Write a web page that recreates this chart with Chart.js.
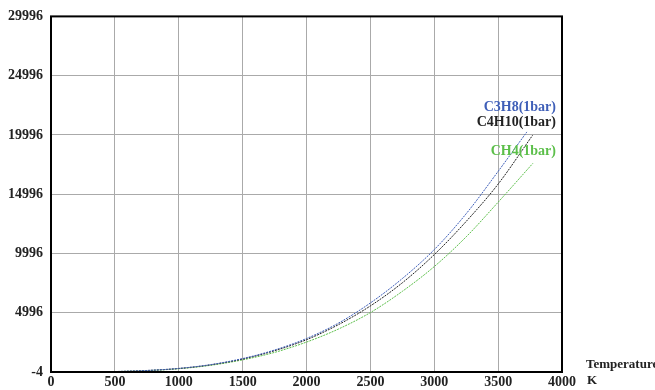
<!DOCTYPE html>
<html>
<head>
<meta charset="utf-8">
<script src="https://cdn.jsdelivr.net/npm/chart.js@4.4.1/dist/chart.umd.min.js"></script>
<style>
  html, body { margin: 0; padding: 0; background: #fff; }
  #wrap { width: 655px; height: 390px; }
</style>
</head>
<body>
<div id="wrap"><canvas id="chart" width="655" height="390"></canvas></div>
<script>
// values
const c3h8T = [100, 250, 500, 750, 1000, 1250, 1500, 1750, 2000, 2250, 2500, 2750, 3000, 3250, 3500, 3725];
const c3h8Y = [0, 3, 35, 125, 300, 620, 1130, 1850, 2820, 4120, 5820, 7880, 10320, 13350, 16920, 20250];

const c4h10T = [100, 250, 500, 750, 1000, 1250, 1500, 1750, 2000, 2250, 2500, 2750, 3000, 3250, 3500, 3770];
const c4h10Y = [0, 3, 33, 120, 290, 600, 1090, 1790, 2720, 3990, 5570, 7520, 9900, 12700, 15850, 19970];

const ch4T = [100, 250, 500, 750, 1000, 1250, 1500, 1750, 2000, 2250, 2500, 2750, 3000, 3250, 3500, 3772];
const ch4Y = [0, 3, 30, 110, 270, 560, 1020, 1650, 2520, 3620, 5010, 6800, 8890, 11400, 14320, 17600];

const seriesNames = ['C3H8(1bar)', 'C4H10(1bar)', 'CH4(1bar)'];
const xTicks = [0, 500, 1000, 1500, 2000, 2500, 3000, 3500, 4000];
const yTicks = [-4, 4996, 9996, 14996, 19996, 24996, 29996];

const toPoints = (xs, ys) => xs.map((x, i) => ({ x: x, y: ys[i] }));
const tickFont = { family: '"Liberation Serif", "Times New Roman", serif', size: 14, weight: 'bold' };

// text labels next to the curves and the axis title
const labelPlugin = {
    id: 'labels',
    afterDraw(chart) {
        const ctx = chart.ctx;
        const area = chart.chartArea;
        ctx.save();
        ctx.font = 'bold 14px "Liberation Serif", serif';
        ctx.textAlign = 'right';
        ctx.textBaseline = 'middle';
        ctx.fillStyle = '#3f5fb8';
        ctx.fillText(seriesNames[0], area.right - 6, 107);
        ctx.fillStyle = '#222';
        ctx.fillText(seriesNames[1], area.right - 6, 122);
        ctx.fillStyle = '#5cbf4a';
        ctx.fillText(seriesNames[2], area.right - 6, 151);
        ctx.fillStyle = '#222';
        ctx.font = 'bold 13px "Liberation Serif", serif';
        ctx.textAlign = 'left';
        ctx.fillText('Temperature', area.right + 24, 365);
        ctx.fillText('K', area.right + 25, 381);
        // frame
        ctx.strokeStyle = '#000';
        ctx.lineWidth = 2;
        ctx.strokeRect(area.left, area.top, area.right - area.left, area.bottom - area.top);
        ctx.restore();
    }
};

new Chart(document.getElementById('chart'), {
    type: 'line',
    data: {
        datasets: [
            { label: seriesNames[0], data: toPoints(c3h8T, c3h8Y), borderColor: '#3f5fb8' },
            { label: seriesNames[1], data: toPoints(c4h10T, c4h10Y), borderColor: '#222' },
            { label: seriesNames[2], data: toPoints(ch4T, ch4Y), borderColor: '#5cbf4a' }
        ].map(d => Object.assign(d, {
            borderWidth: 1,
            borderDash: [2, 1],
            pointRadius: 0,
            cubicInterpolationMode: 'monotone',
            fill: false
        }))
    },
    options: {
        responsive: false,
        animation: false,
        layout: { padding: { left: 0, right: 93, top: 11, bottom: 0 } },
        plugins: { legend: { display: false }, tooltip: { enabled: false } },
        scales: {
            x: {
                type: 'linear',
                min: 0,
                max: 4000,
                afterBuildTicks: s => { s.ticks = xTicks.map(v => ({ value: v })); },
                afterFit: s => { s.height = 18; },
                grid: { color: '#aaa', lineWidth: 1, drawTicks: false },
                border: { display: false },
                ticks: { font: tickFont, color: '#222', padding: 2, maxRotation: 0, autoSkip: false,
                         callback: v => String(v) }
            },
            y: {
                type: 'linear',
                min: -4,
                max: 29996,
                afterBuildTicks: s => { s.ticks = yTicks.map(v => ({ value: v })); },
                afterFit: s => { s.width = 51; },
                grid: { color: '#aaa', lineWidth: 1, drawTicks: false },
                border: { display: false },
                ticks: { font: tickFont, color: '#222', padding: 8, autoSkip: false,
                         callback: v => String(v) }
            }
        }
    },
    plugins: [labelPlugin]
});
</script>
</body>
</html>
